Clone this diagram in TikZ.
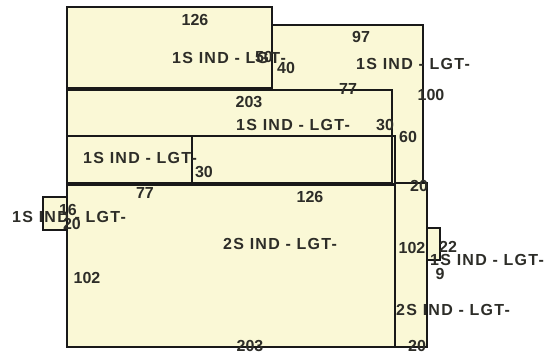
\documentclass[tikz,border=0pt]{standalone}
\usepackage{fontspec}
\setmainfont{Liberation Sans}
\newfontfamily\spacedfont[LetterSpace=8]{Liberation Sans}
\definecolor{plan}{RGB}{250,248,214}
\definecolor{ink}{RGB}{45,45,40}
\definecolor{edge}{RGB}{25,25,25}
\tikzset{
  roomfill/.style={fill=plan, draw=none},
  roomline/.style={draw=edge, line width=1.2pt},
  lbl/.style={font=\bfseries\fontsize{16}{16}\selectfont, text=ink, inner sep=0pt},
  area/.style={font=\spacedfont\bfseries\fontsize{16}{16}\selectfont, text=ink, inner sep=0pt, anchor=west},
}
\begin{document}
\begin{tikzpicture}[x=1pt,y=-1pt]
\useasboundingbox (0,0) rectangle (552,354);
% section B (behind)
\draw[roomfill, roomline] (272,25) rectangle (423,183);
% fills
\fill[plan] (67,90) rectangle (392,183);
\fill[plan] (67,136) rectangle (395,184);
\fill[plan] (67,7) rectangle (272,88);
\fill[plan] (67,185) rectangle (395,347);
\fill[plan] (395,183) rectangle (427,347);
\fill[plan] (43,197) rectangle (67,230);
\fill[plan] (427,228) rectangle (440,260);
% outlines
\draw[roomline] (67,90) rectangle (392,183);
\draw[roomline] (67,136) rectangle (395,184);
\draw[roomline] (192,136) -- (192,184);
\draw[roomline] (67,7) rectangle (272,88);
\draw[roomline] (67,185) rectangle (395,347);
\draw[roomline] (395,183) rectangle (427,347);
\draw[roomline] (43,197) rectangle (67,230);
\draw[roomline] (427,228) rectangle (440,260);
% labels
\node[lbl] (a1) at (195,20) {126};
\node[area] (a2) at (172,58) {1S IND - LGT-};
\node[lbl] (a3) at (264,57) {50};
\node[lbl] (a4) at (286,68) {40};
\node[lbl] (b1) at (361,37) {97};
\node[area] (b2) at (356,64) {1S IND - LGT-};
\node[lbl] (b3) at (348,89) {77};
\node[lbl] (b4) at (431,95) {100};
\node[lbl] (c1) at (249,102) {203};
\node[area] (c2) at (236,125) {1S IND - LGT-};
\node[lbl] (c3) at (385,125) {30};
\node[lbl] (c4) at (408,137) {60};
\node[area] (d1) at (83,158) {1S IND - LGT-};
\node[lbl] (d2) at (204,172) {30};
\node[lbl] (e1) at (145,193) {77};
\node[lbl] (e2) at (310,197) {126};
\node[lbl] (f1) at (419,186) {20};
\node[area] (g1) at (12,217) {1S IND - LGT-};
\node[lbl] (g2) at (68,210) {16};
\node[lbl] (g3) at (72,224) {20};
\node[area] (e3) at (223,244) {2S IND - LGT-};
\node[lbl] (e4) at (87,278) {102};
\node[lbl] (f2) at (412,248) {102};
\node[lbl] (h1) at (448,247) {22};
\node[area] (h2) at (430,260) {1S IND - LGT-};
\node[lbl] (h3) at (440,274) {9};
\node[area] (f3) at (396,310) {2S IND - LGT-};
\node[lbl] (e5) at (250,346) {203};
\node[lbl] (f4) at (417,346) {20};
\end{tikzpicture}
\end{document}
